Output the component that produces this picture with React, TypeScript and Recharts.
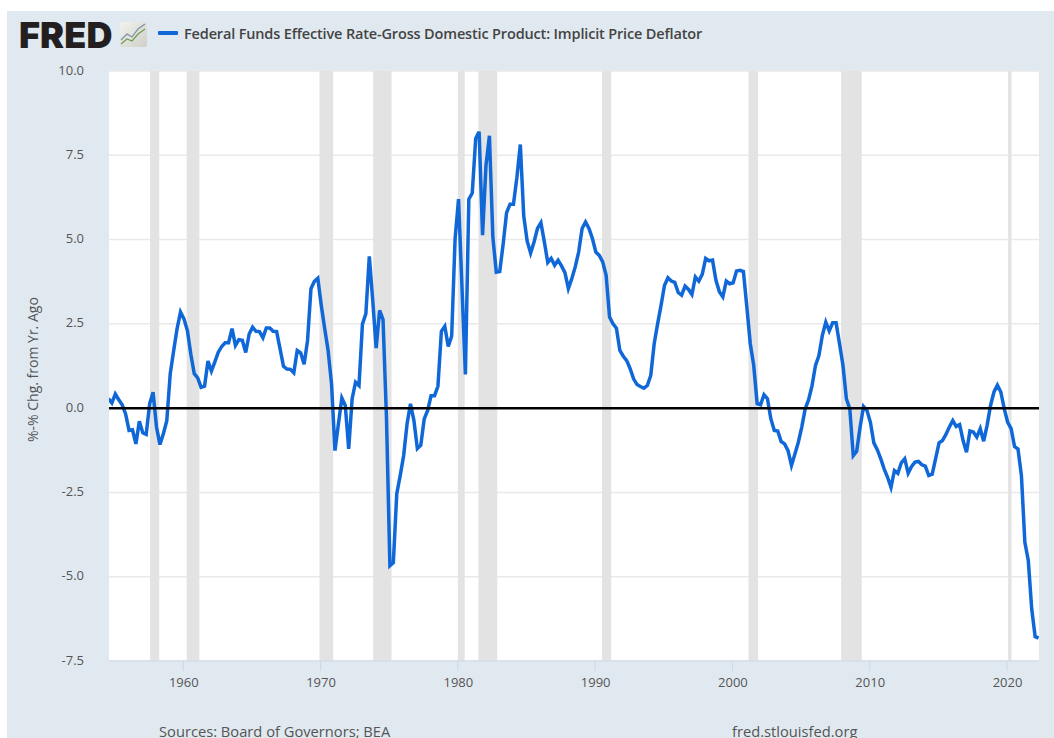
import React from "react";
import {
  LineChart,
  Line,
  XAxis,
  YAxis,
  CartesianGrid,
  ReferenceArea,
  ReferenceLine,
} from "recharts";

// Quarterly spread, first value is 1954 Q3
const spreadValues = [
  0.28, 0.15, 0.42, 0.25, 0.1, -0.17, -0.66, -0.64, -1.06, -0.39,
  -0.73, -0.78, 0.13, 0.47, -0.56, -1.08, -0.76, -0.37, 1.02, 1.7,
  2.36, 2.85, 2.65, 2.3, 1.6, 1.02, 0.9, 0.62, 0.65, 1.4,
  1.1, 1.37, 1.66, 1.83, 1.94, 1.94, 2.36, 1.86, 2.03, 2.01,
  1.65, 2.2, 2.4, 2.28, 2.27, 2.09, 2.38, 2.38, 2.28, 2.27,
  1.76, 1.24, 1.16, 1.15, 1.05, 1.71, 1.64, 1.3, 2.0, 3.54,
  3.76, 3.85, 3.05, 2.36, 1.71, 0.72, -1.26, -0.47, 0.3, 0.08,
  -1.21, 0.28, 0.77, 0.67, 2.49, 2.8, 4.5, 3.2, 1.78, 2.9,
  2.63, -0.27, -4.67, -4.58, -2.54, -2.0, -1.41, -0.47, 0.13, -0.37,
  -1.2, -1.1, -0.32, -0.07, 0.37, 0.37, 0.65, 2.28, 2.43, 1.83,
  2.14, 5.03, 6.2, 3.59, 1.0, 6.2, 6.38, 8.0, 8.2, 5.13,
  7.2, 8.08, 5.07, 4.03, 4.05, 4.87, 5.8, 6.05, 6.05, 6.84,
  7.82, 5.7, 4.95, 4.6, 4.93, 5.33, 5.5, 4.93, 4.32, 4.44,
  4.24, 4.39, 4.22, 4.02, 3.55, 3.84, 4.19, 4.63, 5.33, 5.52,
  5.33, 5.03, 4.63, 4.53, 4.34, 3.94, 2.7, 2.5, 2.37, 1.71,
  1.54, 1.41, 1.17, 0.87, 0.7, 0.64, 0.59, 0.67, 0.97, 1.91,
  2.5, 3.05, 3.64, 3.87, 3.77, 3.73, 3.43, 3.35, 3.62, 3.52,
  3.37, 3.89, 3.77, 3.97, 4.44, 4.37, 4.39, 3.79, 3.45, 3.3,
  3.77, 3.69, 3.72, 4.07, 4.09, 4.05, 3.0, 1.91, 1.27, 0.13,
  0.1, 0.4, 0.28, -0.32, -0.66, -0.68, -0.99, -1.06, -1.26, -1.7,
  -1.36, -1.01, -0.56, -0.02, 0.25, 0.67, 1.27, 1.56, 2.16, 2.55,
  2.29, 2.53, 2.53, 1.91, 1.27, 0.28, -0.02, -1.41, -1.28, -0.56,
  0.05, -0.07, -0.42, -1.03, -1.23, -1.5, -1.8, -2.05, -2.35, -1.85,
  -1.93, -1.62, -1.5, -1.93, -1.73, -1.6, -1.58, -1.68, -1.72, -2.0,
  -1.96, -1.5, -1.03, -0.96, -0.78, -0.56, -0.37, -0.54, -0.49, -0.96,
  -1.31, -0.68, -0.71, -0.86, -0.61, -0.98, -0.51, 0.08, 0.48, 0.68,
  0.48, -0.02, -0.42, -0.61, -1.14, -1.21, -2.0, -3.98, -4.52, -5.96,
  -6.78, -6.82,
];

const recessionStarts = [1957.58, 1960.25, 1969.92, 1973.83, 1980.0, 1981.5, 1990.5, 2001.17, 2007.92, 2020.08];
const recessionEnds = [1958.25, 1961.17, 1970.92, 1975.17, 1980.5, 1982.87, 1991.17, 2001.87, 2009.42, 2020.33];

const yearTicks = [1960, 1970, 1980, 1990, 2000, 2010, 2020];
const valueTicks = [-7.5, -5, -2.5, 0, 2.5, 5, 7.5, 10];

const chartData = spreadValues.map((value, i) => ({ year: 1954.55 + i * 0.25, value }));

const FONT = "'Open Sans', sans-serif";
const TEXT = "#555";

const FredIcon = () => (
  <svg width="27" height="25" style={{ position: "absolute", left: 120, top: 22 }}>
    <defs>
      <linearGradient id="iconBg" x1="0" y1="0" x2="1" y2="1">
        <stop offset="0%" stopColor="#f3f3ee" />
        <stop offset="100%" stopColor="#cfcfc8" />
      </linearGradient>
    </defs>
    <rect width="27" height="25" rx="2" fill="url(#iconBg)" />
    <polyline points="1,18 7,12 12,15 18,7 25,2" fill="none" stroke="#7a8fa6" strokeWidth="1.2" />
    <polyline points="1,22 7,17 12,19 18,12 25,7" fill="none" stroke="#6f9a56" strokeWidth="1.2" />
  </svg>
);

export default function App() {
  return (
    <div style={{ position: "absolute", left: 0, top: 0, width: 1054, height: 738, overflow: "hidden", background: "#fff", fontFamily: FONT }}>
      <div style={{ position: "absolute", left: 7, top: 11, width: 1047, height: 727, background: "#e1e9f0" }} />

      {/* Header */}
      <div style={{ position: "absolute", left: 19, top: 13, fontFamily: "Inter, sans-serif", fontWeight: 900, fontSize: 36, letterSpacing: 0.1, color: "#231f20", lineHeight: "44px" }}>
        FRED
      </div>
      <FredIcon />
      <div style={{ position: "absolute", left: 158, top: 31, width: 20, height: 4, borderRadius: 1, background: "#1068d8" }} />
      <div style={{ position: "absolute", left: 184, top: 24, fontSize: 14.5, fontWeight: 600, letterSpacing: -0.16, color: "#444", whiteSpace: "nowrap", lineHeight: "20px" }}>
        Federal Funds Effective Rate-Gross Domestic Product: Implicit Price Deflator
      </div>

      <div style={{ position: "absolute", left: 0, top: 0 }}>
        <LineChart width={1054} height={738} data={chartData} margin={{ top: 71, right: 15, bottom: 0, left: 0 }}>
          <CartesianGrid horizontal vertical={false} fill="#fff" fillOpacity={1} stroke="#e9e9e9" strokeWidth={1.5} syncWithTicks />
          <XAxis
            dataKey="year"
            type="number"
            domain={[1954.59, 2022.33]}
            allowDataOverflow
            ticks={yearTicks}
            height={77}
            tickSize={10}
            tickMargin={7}
            stroke="#ccd6eb"
            tick={{ fill: TEXT, fontSize: 13, fontFamily: FONT, dx: 0.5 }}
          />
          <YAxis
            type="number"
            domain={[-7.5, 10]}
            ticks={valueTicks}
            width={109}
            axisLine={false}
            tickLine={false}
            tickMargin={19}
            tickFormatter={(v: number) => v.toFixed(1)}
            tick={{ fill: TEXT, fontSize: 13, fontFamily: FONT, dy: -1 }}
            label={{
              value: "%-% Chg. from Yr. Ago",
              angle: -90,
              position: "insideLeft",
              dx: 28,
              dy: 76,
              style: { fill: TEXT, fontSize: 14, fontFamily: FONT },
            }}
          />
          {recessionStarts.map((start, i) => (
            <ReferenceArea key={start} x1={start} x2={recessionEnds[i]} fill="#e3e3e3" fillOpacity={1} stroke="none" ifOverflow="hidden" />
          ))}
          <Line dataKey="value" type="linear" stroke="#1068d8" strokeWidth={3.5} dot={false} activeDot={false} isAnimationActive={false} />
          <ReferenceLine y={0} stroke="#000" strokeWidth={2.5} />
        </LineChart>
      </div>

      {/* Footer, cut by the bottom of the page */}
      <div style={{ position: "absolute", left: 159, top: 721, fontSize: 14.7, color: TEXT, whiteSpace: "nowrap", lineHeight: "20px" }}>
        Sources: Board of Governors; BEA
      </div>
      <div style={{ position: "absolute", left: 732, top: 721, fontSize: 14.7, color: TEXT, whiteSpace: "nowrap", lineHeight: "20px" }}>
        fred.stlouisfed.org
      </div>
    </div>
  );
}
